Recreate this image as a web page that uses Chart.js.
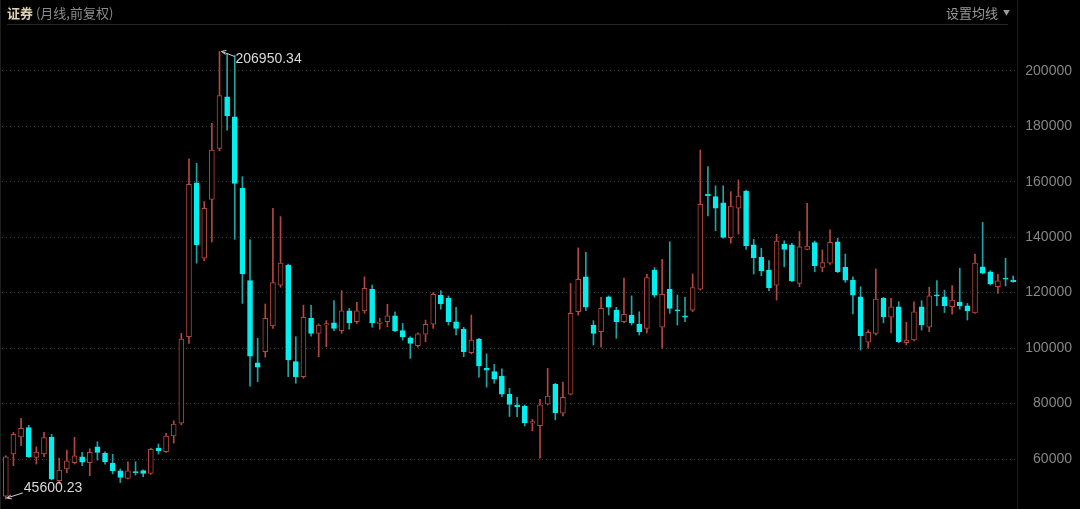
<!DOCTYPE html>
<html>
<head>
<meta charset="utf-8">
<script src="https://cdn.jsdelivr.net/npm/chart.js@4.4.1/dist/chart.umd.min.js"></script>
<style>
  html,body{margin:0;padding:0;background:#000;}
  #wrap{position:relative;width:1080px;height:509px;background:#000;overflow:hidden;}
  #c{position:absolute;left:0;top:0;}
  .hdr{position:absolute;top:4px;font:13px "Noto Sans CJK SC","Noto Sans",sans-serif;line-height:18px;white-space:nowrap;}
  #title{left:7px;color:#8c8c8c;}
  #title b{color:#ddd3b6;font-weight:600;}
  #ma{left:946px;color:#9a9a9a;}
  #ma span{font-size:7px;margin-left:5px;position:relative;top:-3px;}
</style>
</head>
<body>
<div id="wrap">
  <canvas id="c" width="1080" height="509"></canvas>
  <div class="hdr" id="title"><b>证券</b> (月线,前复权)</div>
  <div class="hdr" id="ma">设置均线<span>▼</span></div>
</div>
<script>
// ---- data (monthly OHLC) ----
const openV  = [46600,61800,68000,71300,60600,61800,67800,52200,56400,58700,60800,58700,64400,62100,58500,55700,53000,55400,55800,54800,63900,62600,68300,72900,104100,159600,132400,153600,172000,190600,183400,157600,124300,94700,98700,108000,122700,129900,95100,89700,110700,105300,108300,109100,106300,113400,109500,113400,121200,108900,109500,111600,106300,103700,100900,105000,108600,119100,117900,109500,106800,98300,103200,92700,91500,89900,83300,79500,79100,72900,72000,79800,86900,76500,83400,113100,125700,108300,105900,118500,113700,109500,111900,108600,107100,128100,107500,121200,113700,111600,113700,121200,155400,154600,152400,139800,150400,156600,137200,132700,128100,122700,137500,137200,123300,135600,138000,129100,130600,138300,129100,124500,118500,102100,105300,117900,111100,114900,101900,102900,114900,107500,119100,118500,114900,116600,115200,112700,129300,127500,122100,125200,124500];
const highV  = [61200,69600,74700,72150,64400,69600,68900,60300,63200,67800,62400,63700,66200,62600,61700,56400,59000,59000,56100,63900,65400,69300,73800,105300,168200,166600,152800,181000,206950.34,206000,205500,161800,139000,103500,115900,150400,147400,130300,104100,115500,115400,108700,109900,117100,120700,114300,116500,125700,122700,110700,115800,113100,108900,104100,105500,110100,120000,120700,118800,114700,107500,111900,103500,97900,94100,92500,85500,82200,79500,74300,81500,92700,87300,87700,123300,136100,134500,109900,118300,118800,114700,125200,118800,113100,126600,129000,132000,138300,119100,118300,126700,171400,165400,158500,158500,156400,160600,157000,139200,136000,131500,141000,138700,137800,142000,152200,138600,135400,142600,139600,133900,125700,122100,106500,128500,118300,117900,116700,109300,116700,117100,121900,124300,120900,122500,128800,116100,133900,145300,127900,126600,132400,126000];
const lowV   = [45600.23,57600,64800,60500,58200,60800,52500,51000,55100,58200,57600,54000,59600,58100,54600,51500,52800,54200,53600,54500,61800,62400,65700,72300,101700,130600,131500,138300,171100,178600,139200,116100,86300,87900,96700,107100,121900,89700,87300,89100,104300,96900,100500,106300,105300,106800,108900,112500,107500,106800,107700,105900,102900,96300,100300,102300,107100,114000,108300,104700,96900,97900,89500,85900,87300,82500,75300,75300,71900,70200,60300,79500,74100,75500,83100,111900,113500,101100,100300,111900,103500,109100,108300,104700,105500,118300,99900,112500,108300,109500,113100,120900,147600,142300,139600,137800,141100,135600,126700,126100,120700,117300,129300,123900,122100,135400,127500,127500,130200,127200,123700,112300,99300,99900,104700,109100,105500,101900,101100,102600,106500,105900,115300,112800,112200,114000,110100,112500,126700,122700,119700,122400,123700];
const closeV = [60800,68900,71100,60800,62500,67700,52700,56000,59300,61100,58900,62400,62400,59000,55800,53400,55700,55100,54800,63500,63000,68300,72600,103200,159000,137200,150400,171400,191000,183700,159400,126700,97100,93100,110700,123600,130600,95700,89700,111100,105300,108300,108800,107100,113400,109100,113400,121500,109100,109400,111600,106300,104100,101700,105100,108600,119400,115900,109500,107100,98700,102900,93600,92000,88800,83400,79700,78900,73100,73500,79500,82700,76700,82200,112500,124800,114700,105300,114300,114700,109500,112200,109100,105900,125400,119100,119400,114300,113400,111100,121800,151800,154900,150400,139900,151200,154800,136900,132600,127900,121800,138600,135600,124200,136500,136800,129700,130800,138100,127500,124500,119100,104500,105700,117700,111300,114900,102300,102900,113100,108300,118800,118800,115300,117300,115200,113400,130600,127000,123100,124200,124800,123900];
const yTicks = [60000,80000,100000,120000,140000,160000,180000,200000];
const startYear = 2012, startMonth = 1;
const categories = openV.map((_, i) => {
  const m = startMonth - 1 + i;
  return (startYear + Math.floor(m / 12)) + '-' + String(m % 12 + 1).padStart(2, '0');
});

// ---- styles ----
const RED = '#b4473f';
const CYAN = '#00f0f0';
const CYAN_WICK = '#1fa3a3';
const isUp = i => closeV[i] >= openV[i];

const overlay = {
  id: 'overlay',
  afterDatasetsDraw(chart) {
    const ctx = chart.ctx, xs = chart.scales.x, ys = chart.scales.y;
    ctx.save();
    ctx.strokeStyle = '#262626'; ctx.lineWidth = 1;
    ctx.beginPath(); ctx.moveTo(7, 24.5); ctx.lineTo(1008, 24.5); ctx.stroke();
    ctx.strokeStyle = '#1e1e1e';
    ctx.beginPath(); ctx.moveTo(1017.5, 0); ctx.lineTo(1017.5, 509); ctx.stroke();
    ctx.beginPath(); ctx.moveTo(0.5, 0); ctx.lineTo(0.5, 509); ctx.stroke();
    let hi = 0, lo = 0;
    highV.forEach((v, i) => { if (v > highV[hi]) hi = i; });
    lowV.forEach((v, i) => { if (v < lowV[lo]) lo = i; });
    ctx.strokeStyle = '#d0d0d0'; ctx.fillStyle = '#d8d8d8';
    ctx.font = '14px "Liberation Sans", Arial, sans-serif';
    ctx.textBaseline = 'middle'; ctx.textAlign = 'left';
    let x = xs.getPixelForValue(hi), y = ys.getPixelForValue(highV[hi]);
    ctx.beginPath(); ctx.moveTo(x + 2, y); ctx.lineTo(x + 15, y + 5); ctx.stroke();
    ctx.beginPath(); ctx.moveTo(x + 2, y); ctx.lineTo(x + 7, y - 1); ctx.moveTo(x + 2, y); ctx.lineTo(x + 6, y + 3); ctx.stroke();
    ctx.fillText(highV[hi].toFixed(2), x + 16, y + 8);
    x = xs.getPixelForValue(lo); y = ys.getPixelForValue(lowV[lo]);
    ctx.beginPath(); ctx.moveTo(x + 1, y - 1); ctx.lineTo(x + 17, y - 6); ctx.stroke();
    ctx.beginPath(); ctx.moveTo(x + 1, y - 1); ctx.lineTo(x + 5, y - 4); ctx.moveTo(x + 1, y - 1); ctx.lineTo(x + 6, y); ctx.stroke();
    ctx.fillText(lowV[lo].toFixed(2), x + 18, y - 11);
    ctx.restore();
  }
};

new Chart(document.getElementById('c'), {
  type: 'bar',
  data: {
    labels: categories,
    datasets: [
      {
        label: 'body',
        order: 0,
        data: openV.map((o, i) => [o, closeV[i]]),
        barThickness: 5,
        minBarLength: 1,
        grouped: false,
        borderWidth: 1,
        borderSkipped: false,
        backgroundColor: ctx => isUp(ctx.dataIndex) ? '#000000' : CYAN,
        borderColor: ctx => isUp(ctx.dataIndex) ? RED : CYAN
      },
      {
        label: 'wick',
        order: 1,
        data: lowV.map((l, i) => [l, highV[i]]),
        barThickness: 1,
        grouped: false,
        borderWidth: 0,
        backgroundColor: ctx => isUp(ctx.dataIndex) ? RED : CYAN_WICK
      }
    ]
  },
  options: {
    responsive: false,
    animation: false,
    layout: { padding: { left: 2, right: 8, top: 30, bottom: 4 } },
    plugins: { legend: { display: false }, tooltip: { enabled: false } },
    scales: {
      x: { type: 'category', display: false, offset: true },
      y: {
        position: 'right',
        min: 43416,
        max: 214674,
        afterFit: s => { s.width = 55; s.paddingTop = 0; s.paddingBottom = 0; },
        afterBuildTicks: s => { s.ticks = yTicks.map(v => ({ value: v })); },
        grid: { color: '#3a3a3a', lineWidth: 1, drawTicks: false },
        border: { display: false, dash: [1, 3] },
        ticks: {
          crossAlign: 'far',
          color: '#858585',
          font: { family: '"Liberation Sans", Arial, sans-serif', size: 14 },
          callback: v => String(v)
        }
      }
    }
  },
  plugins: [overlay]
});
</script>
</body>
</html>
